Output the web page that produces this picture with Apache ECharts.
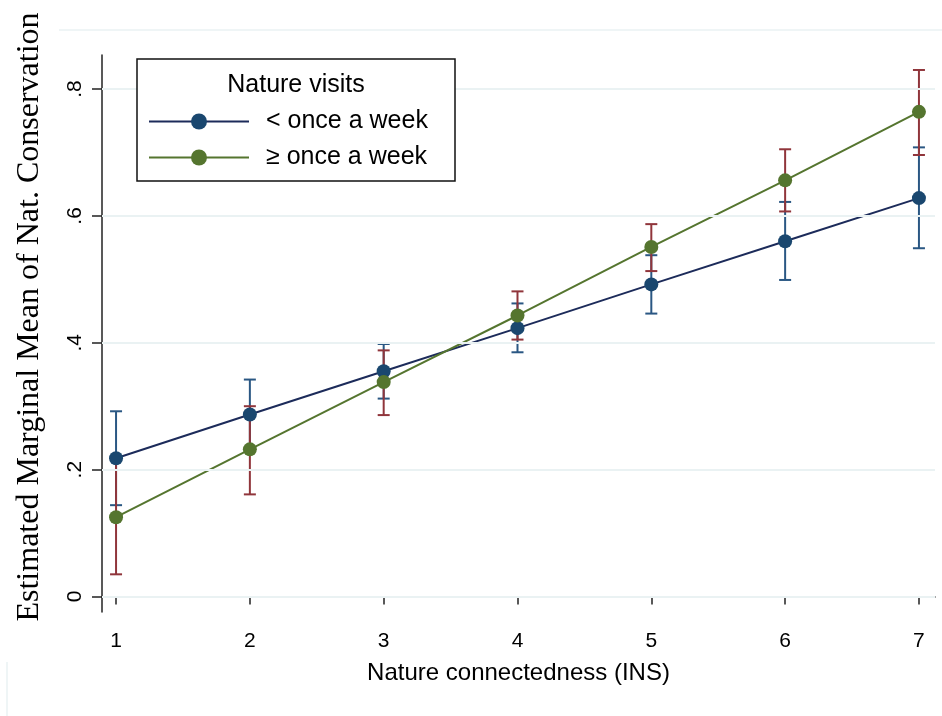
<!DOCTYPE html>
<html><head><meta charset="utf-8">
<script src="https://cdn.jsdelivr.net/npm/echarts@6/dist/echarts.min.js"></script>
<style>html,body{margin:0;padding:0;background:#fff}#c{width:942px;height:716px}</style>
</head><body><div id="c"></div>
<script>
const xValues = [1, 2, 3, 4, 5, 6, 7];
const lowMean  = [0.218, 0.287, 0.355, 0.423, 0.492, 0.560, 0.628];
const lowLower = [0.144, 0.232, 0.312, 0.385, 0.446, 0.499, 0.549];
const lowUpper = [0.292, 0.342, 0.398, 0.462, 0.538, 0.622, 0.708];
const highMean  = [0.125, 0.232, 0.338, 0.443, 0.551, 0.656, 0.764];
const highLower = [0.035, 0.161, 0.286, 0.405, 0.513, 0.607, 0.696];
const highUpper = [0.215, 0.300, 0.388, 0.481, 0.587, 0.705, 0.830];
const yTicks = [0, 0.2, 0.4, 0.6, 0.8];
const yTickLabels = ['0', '.2', '.4', '.6', '.8'];
const seriesNames = ['< once a week', '\u2265 once a week'];
const legendTitle = 'Nature visits';
const xTitle = 'Nature connectedness (INS)';
const yTitle = 'Estimated Marginal Mean of Nat. Conservation';

const SANS = '"Liberation Sans", Arial, sans-serif';
const SERIF = '"Liberation Serif", "Times New Roman", serif';
const C_LOW_LINE = '#1c2b5a', C_LOW_MK = '#1a476f', C_LOW_CI = '#2a5783';
const C_HIGH = '#55752f', C_HIGH_CI = '#90353b';
const GRID_C = '#eaf2f3';

function pairs(a) { return xValues.map((x, i) => [x, a[i]]); }
function ciData(lo, hi) { return xValues.map((x, i) => [x, lo[i], hi[i]]); }
function errRender(color) {
  return function (params, api) {
    const x = api.value(0), lo = api.value(1), hi = api.value(2);
    const pLo = api.coord([x, lo]), pHi = api.coord([x, hi]);
    const hw = 6;
    const style = { stroke: color, lineWidth: 2 };
    return { type: 'group', children: [
      { type: 'line', shape: { x1: pLo[0], y1: pLo[1], x2: pHi[0], y2: pHi[1] }, style },
      { type: 'line', shape: { x1: pLo[0] - hw, y1: pLo[1], x2: pLo[0] + hw, y2: pLo[1] }, style },
      { type: 'line', shape: { x1: pHi[0] - hw, y1: pHi[1], x2: pHi[0] + hw, y2: pHi[1] }, style }
    ]};
  };
}

const chart = echarts.init(document.getElementById('c'), null, { renderer: 'canvas' });
chart.setOption({
  animation: false,
  backgroundColor: '#fff',
  grid: { left: 102, top: 55, right: 7, bottom: 104, containLabel: false, outerBoundsMode: 'none' },
  xAxis: {
    type: 'value', min: 0.895, max: 7.12,
    name: xTitle, nameLocation: 'middle', nameGap: 49,
    nameTextStyle: { fontFamily: SANS, fontSize: 24, color: '#000' },
    axisLine: { show: true, lineStyle: { color: '#222', width: 1.5 } },
    axisTick: { show: true, length: 8, customValues: xValues, lineStyle: { color: '#222', width: 1.5 } },
    axisLabel: { customValues: xValues, margin: 19, fontFamily: SANS, fontSize: 21, color: '#000' },
    splitLine: { show: false }
  },
  yAxis: {
    type: 'value', min: -0.0244, max: 0.8536,
    axisLine: { show: true, lineStyle: { color: '#222', width: 1.5 } },
    axisTick: { show: true, length: 10, customValues: yTicks, lineStyle: { color: '#222', width: 1.5 } },
    axisLabel: {
      customValues: yTicks, rotate: 90, margin: 16, fontFamily: SANS, fontSize: 21, color: '#000',
      formatter: v => { const i = yTicks.findIndex(t => Math.abs(t - v) < 1e-9); return i >= 0 ? yTickLabels[i] : ''; }
    },
    splitLine: { show: false }
  },
  legend: {
    orient: 'vertical', left: 148, top: 109, padding: 0, itemWidth: 100, itemHeight: 20, itemGap: 11, z: 20,
    textStyle: { fontFamily: SANS, fontSize: 25, color: '#000', padding: [0, 0, 0, 12] },
    data: seriesNames
  },
  graphic: [
    { type: 'line', shape: { x1: 59, y1: 30, x2: 942, y2: 30 }, style: { stroke: GRID_C, lineWidth: 1.5 }, silent: true },
    { type: 'line', shape: { x1: 7, y1: 662, x2: 7, y2: 716 }, style: { stroke: GRID_C, lineWidth: 1.5 }, silent: true },
    { type: 'rect', shape: { x: 137, y: 59, width: 318, height: 122 }, style: { fill: '#fff', stroke: '#111', lineWidth: 1.5 }, z: 10, silent: true },
    { type: 'text', x: 296, y: 85, style: { text: legendTitle, fontFamily: SANS, fontSize: 25, fill: '#000', textAlign: 'center', textVerticalAlign: 'middle' }, z: 11, silent: true },
    { type: 'text', x: 30, y: 317, rotation: Math.PI / 2, style: { text: yTitle, fontFamily: SERIF, fontSize: 32, fill: '#000', textAlign: 'center', textVerticalAlign: 'middle' }, silent: true }
  ],
  series: [
    {
      type: 'custom', name: 'ci-low', renderItem: errRender(C_LOW_CI), data: ciData(lowLower, lowUpper), z: 1, silent: true,
      markLine: {
        silent: true, symbol: 'none', label: { show: false },
        lineStyle: { color: GRID_C, width: 2, type: 'solid' },
        data: yTicks.map(v => ({ yAxis: v }))
      }
    },
    { type: 'custom', name: 'ci-high', renderItem: errRender(C_HIGH_CI), data: ciData(highLower, highUpper), z: 1, silent: true },
    {
      type: 'line', name: seriesNames[0], data: pairs(lowMean), z: 3,
      symbol: 'circle', symbolSize: 14,
      lineStyle: { color: C_LOW_LINE, width: 2 },
      itemStyle: { color: C_LOW_MK }
    },
    {
      type: 'line', name: seriesNames[1], data: pairs(highMean), z: 3,
      symbol: 'circle', symbolSize: 14,
      lineStyle: { color: C_HIGH, width: 2 },
      itemStyle: { color: C_HIGH }
    }
  ]
});
</script></body></html>
